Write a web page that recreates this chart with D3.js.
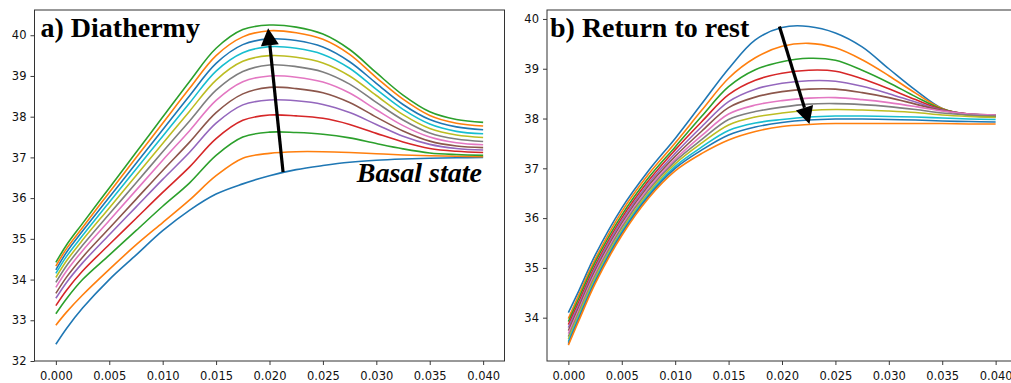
<!DOCTYPE html>
<html>
<head>
<meta charset="utf-8">
<script src="https://cdn.jsdelivr.net/npm/d3@7"></script>
<style>
  html, body { margin: 0; padding: 0; background: #fff; }
  svg { display: block; }
</style>
</head>
<body>
<svg id="chart" width="1011" height="383"></svg>
<script>
// ---------- DATA ----------
const timeValues = [0, 0.001, 0.0025, 0.005, 0.0075, 0.01, 0.0125, 0.015, 0.0175, 0.02, 0.0225, 0.025, 0.0275, 0.03, 0.0325, 0.035, 0.0375, 0.04];

const xTickValues = [0, 0.005, 0.01, 0.015, 0.02, 0.025, 0.03, 0.035, 0.04];
const yTicksDiathermy = [32, 33, 34, 35, 36, 37, 38, 39, 40];
const yTicksReturn = [34, 35, 36, 37, 38, 39, 40];

const diathermySeries = [
  [32.41, 32.80, 33.30, 34.00, 34.60, 35.20, 35.70, 36.10, 36.35, 36.55, 36.70, 36.80, 36.88, 36.93, 36.96, 36.98, 36.99, 37.00],
  [32.88, 33.20, 33.62, 34.25, 34.85, 35.40, 35.95, 36.55, 36.98, 37.10, 37.14, 37.14, 37.12, 37.09, 37.06, 37.04, 37.03, 37.02],
  [33.16, 33.53, 34.00, 34.60, 35.20, 35.80, 36.37, 37.05, 37.50, 37.62, 37.61, 37.57, 37.48, 37.34, 37.21, 37.11, 37.07, 37.05],
  [33.36, 33.74, 34.21, 34.86, 35.50, 36.14, 36.76, 37.46, 37.91, 38.04, 38.02, 37.96, 37.81, 37.59, 37.38, 37.22, 37.15, 37.12],
  [33.54, 33.93, 34.41, 35.10, 35.78, 36.46, 37.12, 37.84, 38.29, 38.41, 38.39, 38.30, 38.10, 37.81, 37.52, 37.32, 37.22, 37.18],
  [33.66, 34.06, 34.55, 35.26, 35.97, 36.68, 37.37, 38.10, 38.56, 38.72, 38.69, 38.59, 38.35, 37.99, 37.65, 37.40, 37.28, 37.24],
  [33.81, 34.21, 34.71, 35.45, 36.19, 36.93, 37.65, 38.40, 38.86, 39.00, 38.97, 38.85, 38.58, 38.17, 37.78, 37.50, 37.36, 37.31],
  [33.93, 34.34, 34.84, 35.61, 36.37, 37.14, 37.89, 38.65, 39.11, 39.27, 39.23, 39.10, 38.80, 38.35, 37.92, 37.60, 37.45, 37.39],
  [34.05, 34.46, 34.97, 35.76, 36.55, 37.34, 38.13, 38.90, 39.36, 39.50, 39.46, 39.32, 39.00, 38.52, 38.05, 37.71, 37.55, 37.49],
  [34.15, 34.57, 35.08, 35.90, 36.71, 37.52, 38.33, 39.12, 39.57, 39.72, 39.68, 39.53, 39.19, 38.67, 38.18, 37.82, 37.64, 37.58],
  [34.24, 34.67, 35.19, 36.02, 36.85, 37.68, 38.51, 39.31, 39.77, 39.91, 39.87, 39.71, 39.35, 38.82, 38.30, 37.93, 37.75, 37.68],
  [34.33, 34.76, 35.28, 36.14, 36.99, 37.84, 38.69, 39.50, 39.96, 40.11, 40.06, 39.90, 39.53, 38.96, 38.43, 38.03, 37.84, 37.77],
  [34.42, 34.85, 35.38, 36.25, 37.12, 37.99, 38.86, 39.68, 40.14, 40.25, 40.20, 40.03, 39.65, 39.08, 38.53, 38.12, 37.93, 37.86]
];

const returnSeries = [
  [34.10, 34.55, 35.25, 36.20, 36.95, 37.60, 38.30, 39.00, 39.58, 39.83, 39.85, 39.72, 39.44, 39.00, 38.57, 38.20, 38.06, 38.03],
  [33.98, 34.47, 35.17, 36.13, 36.88, 37.51, 38.17, 38.81, 39.22, 39.45, 39.51, 39.42, 39.18, 38.86, 38.51, 38.20, 38.07, 38.04],
  [33.92, 34.40, 35.11, 36.06, 36.81, 37.43, 38.05, 38.64, 38.98, 39.14, 39.21, 39.17, 38.97, 38.72, 38.44, 38.19, 38.08, 38.05],
  [33.86, 34.33, 35.04, 36.00, 36.75, 37.37, 37.94, 38.48, 38.77, 38.91, 38.97, 38.95, 38.80, 38.60, 38.38, 38.18, 38.09, 38.06],
  [33.80, 34.27, 34.99, 35.95, 36.70, 37.30, 37.84, 38.34, 38.59, 38.71, 38.76, 38.75, 38.65, 38.50, 38.33, 38.17, 38.09, 38.07],
  [33.74, 34.22, 34.94, 35.90, 36.65, 37.24, 37.75, 38.22, 38.43, 38.54, 38.59, 38.59, 38.52, 38.42, 38.29, 38.16, 38.09, 38.07],
  [33.68, 34.17, 34.89, 35.85, 36.60, 37.18, 37.66, 38.09, 38.27, 38.36, 38.41, 38.42, 38.38, 38.32, 38.24, 38.15, 38.09, 38.07],
  [33.62, 34.12, 34.84, 35.81, 36.56, 37.14, 37.58, 37.98, 38.14, 38.23, 38.29, 38.30, 38.28, 38.24, 38.18, 38.11, 38.07, 38.05],
  [33.57, 34.08, 34.80, 35.76, 36.51, 37.09, 37.51, 37.87, 38.03, 38.11, 38.16, 38.18, 38.17, 38.15, 38.12, 38.07, 38.04, 38.02],
  [33.52, 34.03, 34.75, 35.72, 36.47, 37.04, 37.43, 37.76, 37.91, 37.98, 38.03, 38.05, 38.05, 38.04, 38.03, 38.01, 37.99, 37.98],
  [33.48, 33.99, 34.72, 35.69, 36.44, 37.00, 37.37, 37.67, 37.83, 37.92, 37.97, 37.99, 37.99, 37.98, 37.97, 37.95, 37.94, 37.93],
  [33.45, 33.95, 34.68, 35.65, 36.40, 36.95, 37.30, 37.57, 37.74, 37.84, 37.88, 37.90, 37.90, 37.90, 37.90, 37.90, 37.89, 37.89]
];

// arrow annotations in data coordinates: [x_from, y_from, x_to, y_to]
const arrowDiathermy = [0.02127, 36.64, 0.01987, 40.17];
const arrowReturn = [0.01976, 39.85, 0.02257, 37.89];

const titleDiathermy = "a) Diathermy";
const titleReturn = "b) Return to rest";
const basalLabel = "Basal state";

const palette = ["#1f77b4", "#ff7f0e", "#2ca02c", "#d62728", "#9467bd", "#8c564b", "#e377c2", "#7f7f7f", "#bcbd22", "#17becf"];

// ---------- DRAW ----------
const svg = d3.select("#chart");
svg.append("rect").attr("width", 1011).attr("height", 383).attr("fill", "#fff");

function panel(opts) {
  const { left, right, top, bottom, yDomain, yTicks, series, title, titleX, arrow, id } = opts;
  const x = d3.scaleLinear().domain([-0.002, 0.042]).range([left, right]);
  const y = d3.scaleLinear().domain(yDomain).range([bottom, top]);
  const g = svg.append("g");

  svg.append("clipPath").attr("id", id).append("rect")
    .attr("x", left).attr("y", top).attr("width", right - left).attr("height", bottom - top);

  const line = d3.line().x((d, i) => x(timeValues[i])).y(d => y(d)).curve(d3.curveCatmullRom.alpha(0.5));
  const lines = g.append("g").attr("clip-path", `url(#${id})`);
  series.forEach((s, i) => {
    lines.append("path").datum(s).attr("d", line)
      .attr("fill", "none").attr("stroke", palette[i % 10])
      .attr("stroke-width", 1.6).attr("stroke-linejoin", "round").attr("stroke-linecap", "butt");
  });

  // axes
  const xAxis = d3.axisBottom(x).tickValues(xTickValues).tickFormat(d3.format(".3f"))
    .tickSizeOuter(0).tickSize(4).tickPadding(6.5);
  const gx = g.append("g").attr("transform", `translate(0,${bottom})`).call(xAxis);
  const yAxis = d3.axisLeft(y).tickValues(yTicks).tickFormat(d3.format("d"))
    .tickSizeOuter(0).tickSize(4).tickPadding(4);
  const gy = g.append("g").attr("transform", `translate(${left},0)`).call(yAxis);
  [gx, gy].forEach(a => {
    a.select(".domain").remove();
    a.selectAll("line").attr("stroke", "#222").attr("stroke-width", 0.9);
    a.selectAll("text").attr("fill", "#111")
      .style("font-family", "'DejaVu Sans', sans-serif").style("font-size", "11.5px");
  });

  // frame (spines)
  g.append("rect").attr("x", left).attr("y", top).attr("width", right - left).attr("height", bottom - top)
    .attr("fill", "none").attr("stroke", "#333").attr("stroke-width", 1);

  // title
  g.append("text").attr("x", titleX).attr("y", top + 27).text(title)
    .style("font-family", "'Liberation Serif', 'Times New Roman', serif")
    .style("font-weight", "bold").style("font-size", "28px").attr("fill", "#000");

  // arrow
  const [x0, y0, x1, y1] = arrow;
  const px0 = x(x0), py0 = y(y0), px1 = x(x1), py1 = y(y1);
  const ang = Math.atan2(py1 - py0, px1 - px0);
  const headLen = 17, headW = 9;
  const bx = px1 - headLen * Math.cos(ang), by = py1 - headLen * Math.sin(ang);
  g.append("line").attr("x1", px0).attr("y1", py0).attr("x2", bx).attr("y2", by)
    .attr("stroke", "#000").attr("stroke-width", 3.2);
  const nx = -Math.sin(ang), ny = Math.cos(ang);
  g.append("path")
    .attr("d", `M${px1},${py1}L${bx + nx * headW},${by + ny * headW}L${bx - nx * headW},${by - ny * headW}Z`)
    .attr("fill", "#000");

  return { x, y, g };
}

const pA = panel({
  id: "clipA", left: 34.5, right: 504.5, top: 10, bottom: 361,
  yDomain: [32.0, 40.62], yTicks: yTicksDiathermy, series: diathermySeries,
  title: titleDiathermy, titleX: 40.5, arrow: arrowDiathermy
});
pA.g.append("text").attr("x", 482).attr("y", 182).attr("text-anchor", "end").text(basalLabel)
  .style("font-family", "'Liberation Serif', 'Times New Roman', serif")
  .style("font-weight", "bold").style("font-style", "italic").style("font-size", "28px").attr("fill", "#000");

panel({
  id: "clipB", left: 547, right: 1017, top: 10, bottom: 361,
  yDomain: [33.13, 40.18], yTicks: yTicksReturn, series: returnSeries,
  title: titleReturn, titleX: 550, arrow: arrowReturn
});
</script>
</body>
</html>
